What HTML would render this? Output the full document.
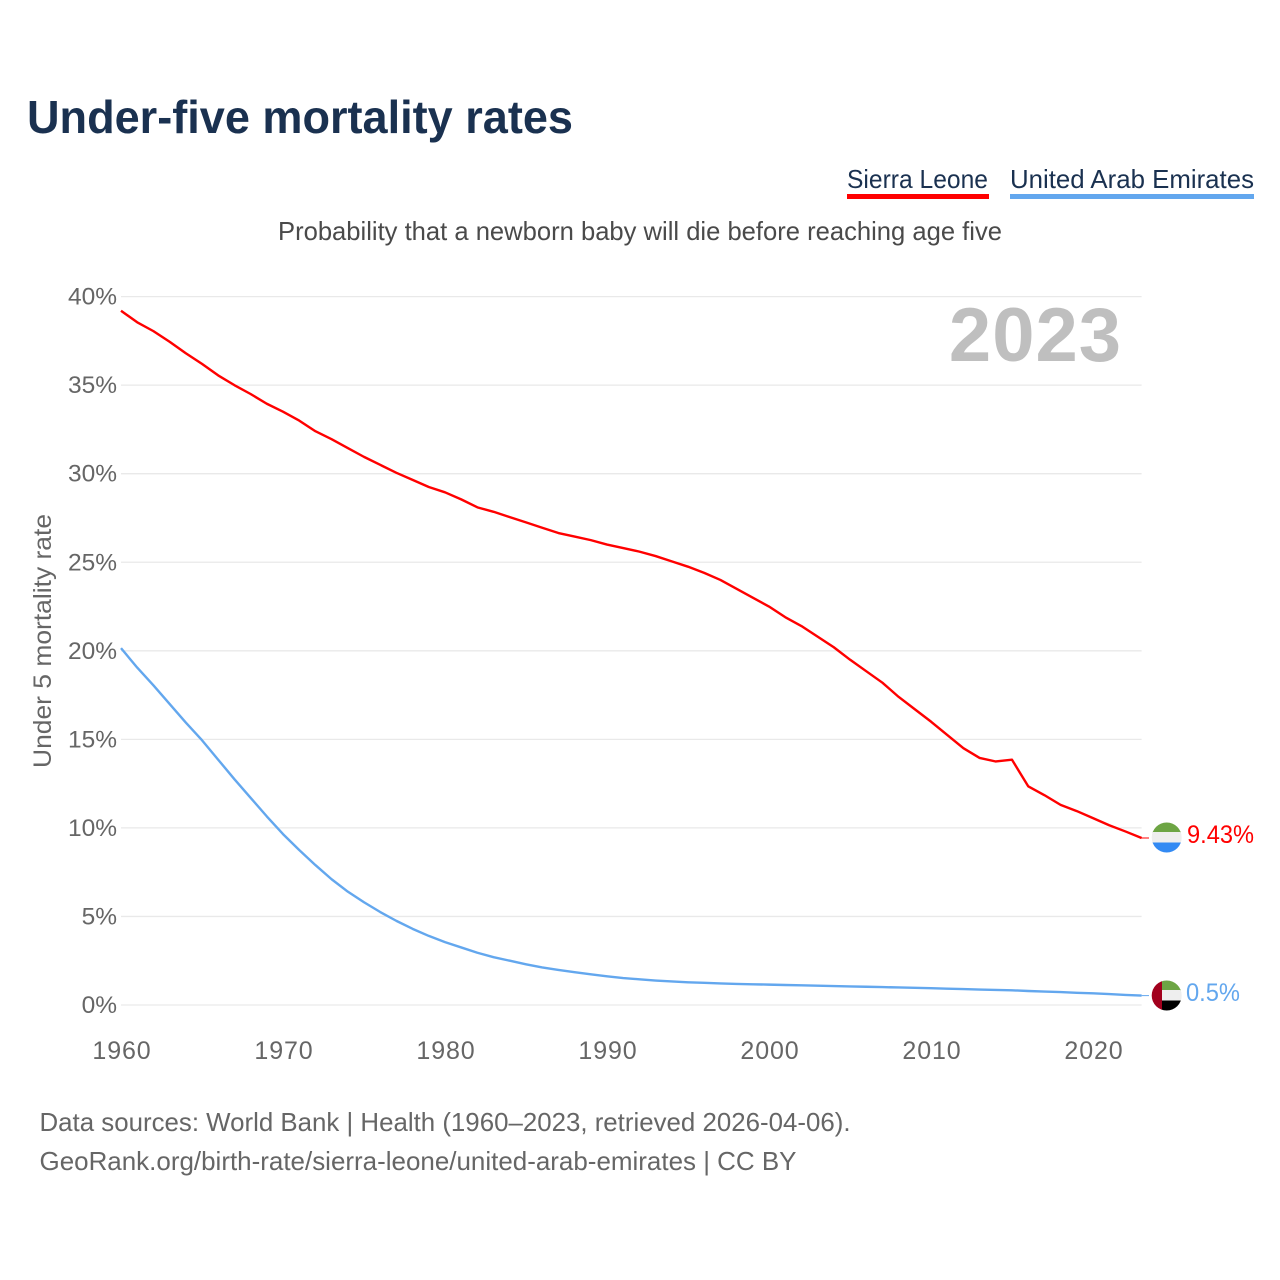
<!DOCTYPE html>
<html lang="en">
<head>
<meta charset="utf-8">
<title>Under-five mortality rates</title>
<style>
  html, body { margin: 0; padding: 0; background: #fff; }
  svg { display: block; font-family: "Liberation Sans", sans-serif; }
</style>
</head>
<body>
<svg id="chart" width="1280" height="1280" viewBox="0 0 1280 1280" xmlns="http://www.w3.org/2000/svg">
  <defs>
    <clipPath id="flag-clip-sl"><circle cx="1166.7" cy="837.5" r="15"/></clipPath>
    <clipPath id="flag-clip-ae"><circle cx="1166.7" cy="995.5" r="15"/></clipPath>
  </defs>
  <rect width="1280" height="1280" fill="#fff"/>

  <text x="27" y="133" font-size="46" font-weight="700" fill="#1a3150" textLength="546" lengthAdjust="spacingAndGlyphs">Under-five mortality rates</text>

  <g>
    <text x="847" y="188" font-size="26" fill="#1a3150" textLength="141" lengthAdjust="spacingAndGlyphs">Sierra Leone</text>
    <rect x="847" y="194" width="142" height="5" fill="#ff0000"/>
  </g>
  <g>
    <text x="1010" y="188" font-size="26" fill="#1a3150" textLength="244" lengthAdjust="spacingAndGlyphs">United Arab Emirates</text>
    <rect x="1010" y="194" width="244" height="5" fill="#63a7ee"/>
  </g>

  <text x="278" y="240" font-size="26" fill="#4a4a4a" textLength="724" lengthAdjust="spacingAndGlyphs">Probability that a newborn baby will die before reaching age five</text>

  <text transform="translate(51 641) rotate(-90)" text-anchor="middle" font-size="25" fill="#666" textLength="254" lengthAdjust="spacingAndGlyphs">Under 5 mortality rate</text>

  <g id="grid"></g>
  <g id="y-ticks"></g>
  <g id="x-ticks"></g>

  <text x="1122" y="361" text-anchor="end" font-size="76" font-weight="700" fill="#bfbfbf" letter-spacing="1">2023</text>

  <g id="series"></g>

  <g clip-path="url(#flag-clip-sl)">
    <rect x="1151" y="822" width="32" height="11" fill="#6da544"/>
    <rect x="1151" y="832" width="32" height="11" fill="#eeeeee"/>
    <rect x="1151" y="842.5" width="32" height="11" fill="#338af3"/>
  </g>
  <g clip-path="url(#flag-clip-ae)">
    <rect x="1161" y="980" width="22" height="11" fill="#6da544"/>
    <rect x="1161" y="990" width="22" height="11" fill="#eeeeee"/>
    <rect x="1161" y="1000.5" width="22" height="11" fill="#000000"/>
    <rect x="1151" y="980" width="11" height="32" fill="#a2001d"/>
  </g>

  <text id="end-label-sl" x="1187" y="843" font-size="25" fill="#ff0000" textLength="67" lengthAdjust="spacingAndGlyphs">9.43%</text>
  <text id="end-label-ae" x="1186" y="1001" font-size="25" fill="#63a7ee" textLength="54" lengthAdjust="spacingAndGlyphs">0.5%</text>

  <text x="39.5" y="1131" font-size="26" fill="#666" textLength="811" lengthAdjust="spacingAndGlyphs">Data sources: World Bank | Health (1960–2023, retrieved 2026-04-06).</text>
  <text x="39.5" y="1170" font-size="26" fill="#666" textLength="757" lengthAdjust="spacingAndGlyphs">GeoRank.org/birth-rate/sierra-leone/united-arab-emirates | CC BY</text>
</svg>

<script>
const years = [];
for (let y = 1960; y <= 2023; y++) years.push(y);

const sierraLeone = [
  39.2, 38.55, 38.05, 37.45, 36.8, 36.2, 35.55, 35.0, 34.5, 33.95,
  33.5, 33.0, 32.4, 31.95, 31.45, 30.95, 30.5, 30.05, 29.65, 29.25,
  28.95, 28.55, 28.1, 27.85, 27.55, 27.25, 26.95, 26.65, 26.45, 26.25,
  26.0, 25.8, 25.6, 25.35, 25.05, 24.75, 24.4, 24.0, 23.5, 23.0,
  22.5, 21.9, 21.4, 20.8, 20.2, 19.5, 18.85, 18.2, 17.4, 16.7,
  16.0, 15.25, 14.5, 13.95, 13.75, 13.85, 12.35, 11.85, 11.3, 10.95,
  10.55, 10.15, 9.8, 9.43
];

const unitedArabEmirates = [
  20.15, 19.05, 18.05, 17.0, 15.95, 14.95, 13.85, 12.75, 11.7, 10.65,
  9.65, 8.75, 7.9, 7.1, 6.4, 5.8, 5.25, 4.75, 4.3, 3.9,
  3.55, 3.25, 2.95, 2.7, 2.5, 2.3, 2.12, 1.98, 1.85, 1.73,
  1.62, 1.52, 1.45, 1.38, 1.33, 1.28, 1.25, 1.22, 1.19, 1.17,
  1.15, 1.13, 1.11, 1.09, 1.07, 1.05, 1.03, 1.01, 0.99, 0.97,
  0.95, 0.92, 0.9, 0.87, 0.85, 0.83, 0.79, 0.76, 0.73, 0.69,
  0.66, 0.62, 0.57, 0.53
];

const yTickValues = [0, 5, 10, 15, 20, 25, 30, 35, 40];
const yTickLabels = ["0%", "5%", "10%", "15%", "20%", "25%", "30%", "35%", "40%"];
const xTickValues = [1960, 1970, 1980, 1990, 2000, 2010, 2020];
const xTickLabels = ["1960", "1970", "1980", "1990", "2000", "2010", "2020"];

const SVG_NS = "http://www.w3.org/2000/svg";
function xScale(year) { return 121 + (year - 1960) * 16.2; }
function yScale(pct) { return 1005 - pct * 17.71; }

const gridGroup = document.getElementById("grid");
const yTickGroup = document.getElementById("y-ticks");
const xTickGroup = document.getElementById("x-ticks");
const seriesGroup = document.getElementById("series");

yTickValues.forEach(function (v, i) {
  const line = document.createElementNS(SVG_NS, "line");
  
  
  line.setAttribute("x1", xScale(1960));
  line.setAttribute("x2", xScale(2023));
  line.setAttribute("y1", yScale(v));
  line.setAttribute("y2", yScale(v));
  line.setAttribute("stroke", "#e9e9e9");
  line.setAttribute("stroke-width", "1.3");
  gridGroup.appendChild(line);

  const label = document.createElementNS(SVG_NS, "text");
  
  
  label.setAttribute("x", 117);
  label.setAttribute("y", yScale(v) + 8);
  label.setAttribute("text-anchor", "end");
  label.setAttribute("font-size", "24.5");
  label.setAttribute("fill", "#666");
  label.textContent = yTickLabels[i];
  yTickGroup.appendChild(label);
});

xTickValues.forEach(function (v, i) {
  const label = document.createElementNS(SVG_NS, "text");
  
  
  label.setAttribute("x", xScale(v) + 1);
  label.setAttribute("y", 1059);
  label.setAttribute("text-anchor", "middle");
  label.setAttribute("font-size", "25");
  label.setAttribute("letter-spacing", "0.9");
  label.setAttribute("fill", "#666");
  label.textContent = xTickLabels[i];
  xTickGroup.appendChild(label);
});

function pathFor(values) {
  return values.map(function (v, i) {
    return (i ? "L" : "M") + xScale(years[i]).toFixed(2) + " " + yScale(v).toFixed(2);
  }).join(" ");
}

function connectorFor(values) {
  const last = values[values.length - 1];
  return "M" + xScale(2023).toFixed(2) + " " + yScale(last).toFixed(2) + " L1149 " + yScale(last).toFixed(2);
}

const slLine = document.createElementNS(SVG_NS, "path");


slLine.setAttribute("d", pathFor(sierraLeone));
slLine.setAttribute("fill", "none");
slLine.setAttribute("stroke", "#ff0000");
slLine.setAttribute("stroke-width", "2.4");
slLine.setAttribute("stroke-linejoin", "round");
seriesGroup.appendChild(slLine);

const slConnector = document.createElementNS(SVG_NS, "path");


slConnector.setAttribute("d", connectorFor(sierraLeone));
slConnector.setAttribute("stroke", "#ff0000");
slConnector.setAttribute("stroke-width", "1");
seriesGroup.appendChild(slConnector);

const aeLine = document.createElementNS(SVG_NS, "path");


aeLine.setAttribute("d", pathFor(unitedArabEmirates));
aeLine.setAttribute("fill", "none");
aeLine.setAttribute("stroke", "#63a7ee");
aeLine.setAttribute("stroke-width", "2.4");
aeLine.setAttribute("stroke-linejoin", "round");
seriesGroup.appendChild(aeLine);

const aeConnector = document.createElementNS(SVG_NS, "path");


aeConnector.setAttribute("d", connectorFor(unitedArabEmirates));
aeConnector.setAttribute("stroke", "#63a7ee");
aeConnector.setAttribute("stroke-width", "1");
seriesGroup.appendChild(aeConnector);
</script>
</body>
</html>
